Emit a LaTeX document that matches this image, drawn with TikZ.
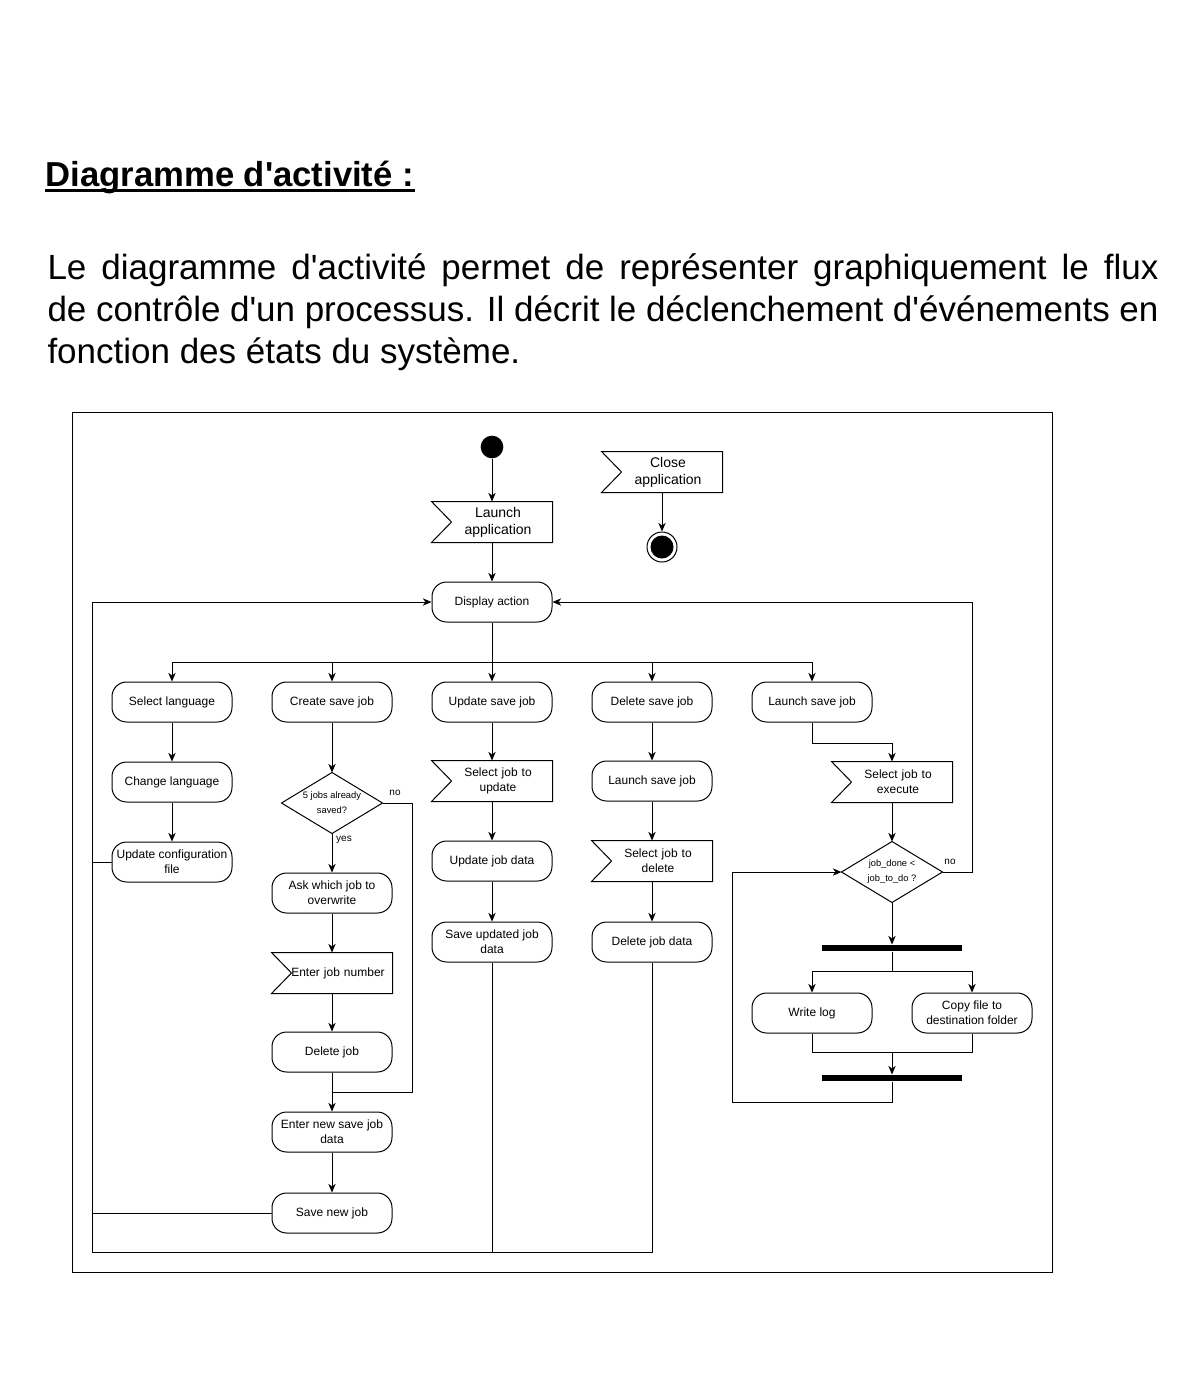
\documentclass[tikz,border=0pt]{standalone}
\usepackage{fontspec}
\setmainfont{Liberation Sans}
\usetikzlibrary{arrows.meta}

\begin{document}
\begin{tikzpicture}[x=0.75pt,y=0.75pt,yscale=-1,xscale=1,line width=0.75pt,
  every node/.style={font=\fontsize{9}{11.25}\selectfont},
  action/.style={draw, rounded corners=11pt, minimum width=90pt, minimum height=30pt, inner sep=0pt, align=center},
  sigbox/.style={minimum width=90pt, minimum height=30pt, inner sep=0pt, text width=90pt, align=center, execute at begin node={\leftskip=9pt plus 1fill\rightskip=0pt plus 1fill\parfillskip=0pt\relax}},
  bigsig/.style={sigbox, font=\fontsize{10.5}{12.75}\selectfont},
  choice/.style={minimum width=75pt, minimum height=45pt, inner sep=0pt, align=center, font=\fontsize{7}{11.25}\selectfont},
  bar/.style={fill=black, minimum width=105pt, minimum height=4.5pt, inner sep=0pt},
  guard/.style={inner sep=0pt, font=\fontsize{7.5}{9}\selectfont},
  flow/.style={-{Stealth[length=6.5pt,width=5.5pt,inset=2pt]}}]
\useasboundingbox (0,0) rectangle (1194,1395);

% Title and text
\node[anchor=base west, inner sep=0pt, font=\fontsize{26}{31.5}\selectfont\bfseries] (title) at (45,186.5) {Diagramme d\textquotesingle activité :};
\draw[line width=2.2pt] (title.base west) ++(0,4) coordinate (ul) -- (ul -| title.base east);
\node[anchor=base west, inner sep=0pt, text width=833.25pt, align=justify, font=\fontsize{26.25}{31.5}\selectfont, execute at begin node={\tolerance=9999\hyphenpenalty=10000}] (intro) at (47,279) {Le diagramme d\textquotesingle activité permet de représenter graphiquement le flux\linebreak de contrôle d\textquotesingle un processus. Il décrit le déclenchement d\textquotesingle événements en\linebreak fonction des états du système.};

% Frame
\draw (72,412) rectangle (1052,1272);

% Start / end
\node[circle, fill=black, minimum size=17pt, inner sep=0pt] (start) at (492,447) {};
\node[bigsig] (launch) at (492,522) {Launch\\application};
\node[bigsig] (close) at (662,472) {Close\\application};
\node[circle, draw, minimum size=22.5pt, inner sep=0pt] (stop) at (662,547) {};
\fill (stop.center) circle (11.5);
\node[action] (display) at (492,602) {Display action};

% Row of choices
\node[action] (sellang) at (172,702) {Select language};
\node[action] (create) at (332,702) {Create save job};
\node[action] (update) at (492,702) {Update save job};
\node[action] (delete) at (652,702) {Delete save job};
\node[action] (runjob) at (812,702) {Launch save job};

% Language
\node[action] (chglang) at (172,782) {Change language};
\node[action] (updconf) at (172,862) {Update configuration\\file};

% Create
\node[choice] (full) at (332,803) {5 jobs already\\saved?};
\node[action] (ask) at (332,893) {Ask which job to\\overwrite};
\node[sigbox] (enternum) at (332,973) {Enter job number};
\node[action] (deljob) at (332,1052) {Delete job};
\node[action] (enternew) at (332,1132) {Enter new save job\\data};
\node[action] (savenew) at (332,1213) {Save new job};

% Update
\node[sigbox] (selupd) at (492,781) {Select job to\\update};
\node[action] (upddata) at (492,861) {Update job data};
\node[action] (savedata) at (492,942) {Save updated job\\data};

% Delete
\node[action] (launchsv) at (652,781) {Launch save job};
\node[sigbox] (seldel) at (652,861) {Select job to\\delete};
\node[action] (deldata) at (652,942) {Delete job data};

% Launch
\node[sigbox] (selexec) at (892,782) {Select job to\\execute};
\node[choice] (more) at (892,872) {job\_done <\\job\_to\_do ?};
\node[bar] (fork) at (892,948) {};
\node[action] (writelog) at (812,1013) {Write log};
\node[action] (copy) at (972,1013) {Copy file to\\destination folder};
\node[bar] (join) at (892,1078) {};

% Signal and decision outlines
\foreach \s in {launch,close,enternum,selupd,seldel,selexec}
  \draw (\s.north west) -- (\s.north east) -- (\s.south east) -- (\s.south west) -- ([xshift=15pt]\s.west) -- cycle;
\foreach \d in {full,more}
  \draw (\d.north) -- (\d.east) -- (\d.south) -- (\d.west) -- cycle;

% Junctions
\coordinate (split) at (492,662);
\coordinate (ll) at (92,1252);
\coordinate (merge) at (332,1092);
\coordinate (jn) at (892,1052);
\coordinate (back) at (732,1102);

% Flows
\foreach \a/\b in {start/launch,launch/display,close/stop,sellang/chglang,chglang/updconf,create/full,full/ask,ask/enternum,enternum/deljob,deljob/enternew,enternew/savenew,update/selupd,selupd/upddata,upddata/savedata,delete/launchsv,launchsv/seldel,seldel/deldata,selexec/more,more/fork,jn/join}
  \draw[flow] (\a) -- (\b);
\draw (display) -- (split);
\foreach \b in {sellang,create,update,delete,runjob}
  \draw[flow] (split) -| (\b);

% Back to display action
\draw[flow] (deldata.south) |- (ll) |- (display.west);
\draw (savedata.south) -- (savedata.south |- ll);
\draw (updconf.west) -- (updconf.west -| ll);
\draw (savenew.west) -- (savenew.west -| ll);
\draw[flow] (more.east) -- ++(30,0) |- (display.east);

% Guards
\draw (full.east) -- ++(30,0) |- (merge);
\node[guard] (no1) at (395,793) {no};
\node[guard] (yes) at (344,840) {yes};
\node[guard] (no2) at (950,862) {no};

% Execution loop
\draw[flow] (runjob.south) -- ++(0,21) -| (selexec);
\draw[flow] (fork.south) -- ++(0,20) -| (writelog);
\draw[flow] (fork.south) -- ++(0,20) -| (copy);
\draw (writelog.south) |- (jn) -| (copy.south);
\draw[flow] (join.south) |- (back) |- (more.west);

\end{tikzpicture}
\end{document}
